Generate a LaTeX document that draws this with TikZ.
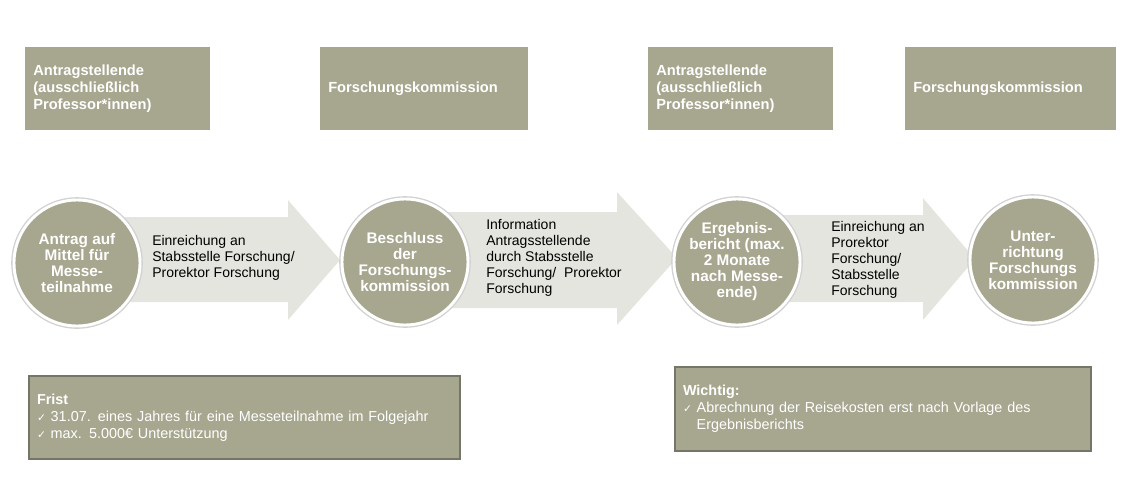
\documentclass[tikz,border=0pt]{standalone}
\usepackage{fontspec}
\setmainfont{Liberation Sans}
\newfontfamily\dejavu{DejaVu Sans}
\newcommand\chk{{\dejavu\fontsize{8}{10}\selectfont ✓}}
\definecolor{olivegray}{RGB}{167,166,143}
\definecolor{arrowgray}{RGB}{229,229,223}
\definecolor{boxborder}{RGB}{118,118,104}
\begin{document}
\begin{tikzpicture}[x=0.75pt,y=-0.75pt,
  topbox/.style={fill=olivegray, anchor=north west, inner xsep=6pt, inner ysep=0pt,
    minimum height=62.25pt, align=left, text=white,
    font=\bfseries\fontsize{11}{12.75}\selectfont},
  circ/.style={circle, fill=olivegray, draw=white, line width=2.2pt,
    preaction={draw=black!18, line width=4.2pt},
    minimum size=94.5pt, inner sep=0pt, text=white, align=center,
    font=\bfseries\fontsize{11.5}{12}\selectfont},
  flow/.style={fill=arrowgray},
  flowtext/.style={anchor=west, align=left, inner sep=0pt,
    font=\fontsize{10.5}{12}\selectfont},
  notebox/.style={fill=olivegray, draw=boxborder, line width=1.5pt, anchor=north west,
    inner xsep=6pt, inner ysep=0pt, align=left, text=white,
    font=\fontsize{10.8}{12.75}\selectfont}
]
\useasboundingbox (0,0) rectangle (1125,483);

% top role boxes
\node[topbox, text width=126.75pt] (t1) at (25,47) {Antragstellende\\(ausschließlich\\Professor*innen)};
\node[topbox, text width=144pt] (t2) at (320,47) {Forschungskommission};
\node[topbox, text width=126.75pt] (t3) at (648,47) {Antragstellende\\(ausschließlich\\Professor*innen)};
\node[topbox, text width=146.25pt] (t4) at (905,47) {Forschungskommission};

% block arrows
\fill[flow] (110,217) -- (288,217) -- (288,200) -- (340,260) -- (288,320) -- (288,302) -- (110,302) -- cycle;
\fill[flow] (440,212) -- (617,212) -- (617,192) -- (677,258) -- (617,325) -- (617,308) -- (440,308) -- cycle;
\fill[flow] (770,215) -- (923,215) -- (923,198) -- (975,259) -- (923,320) -- (923,302) -- (770,302) -- cycle;

\node[flowtext] (f1) at (152,258) {Einreichung an\\Stabsstelle Forschung/\\Prorektor Forschung};
\node[flowtext] (f2) at (486,258) {Information\\Antragsstellende\\durch Stabsstelle\\Forschung/\ \ Prorektor\\Forschung};
\node[flowtext] (f3) at (831,260) {Einreichung an\\Prorektor\\Forschung/\\Stabsstelle\\Forschung};

% circles
\node[circ] (c1) at (77,263) {Antrag auf\\Mittel für\\Messe-\\teilnahme};
\node[circ] (c2) at (405,262) {Beschluss\\der\\Forschungs-\\kommission};
\node[circ] (c3) at (737,262) {Ergebnis-\\bericht (max.\\2 Monate\\nach Messe-\\ende)};
\node[circ] (c4) at (1033,260) {Unter-\\richtung\\Forschungs\\kommission};

% note boxes
\node[notebox, text width=311.25pt, minimum height=62.25pt] (n1) at (28,375)
  {\textbf{Frist}\\\chk\ 31.07. eines Jahres für eine Messeteilnahme im Folgejahr\\\chk\ max. 5.000€ Unterstützung};
\node[notebox, text width=300pt, minimum height=63pt] (n2) at (674,366)
  {\textbf{Wichtig:}\\\chk\ Abrechnung der Reisekosten erst nach Vorlage des\\\hphantom{\chk\ }Ergebnisberichts};
\end{tikzpicture}
\end{document}
